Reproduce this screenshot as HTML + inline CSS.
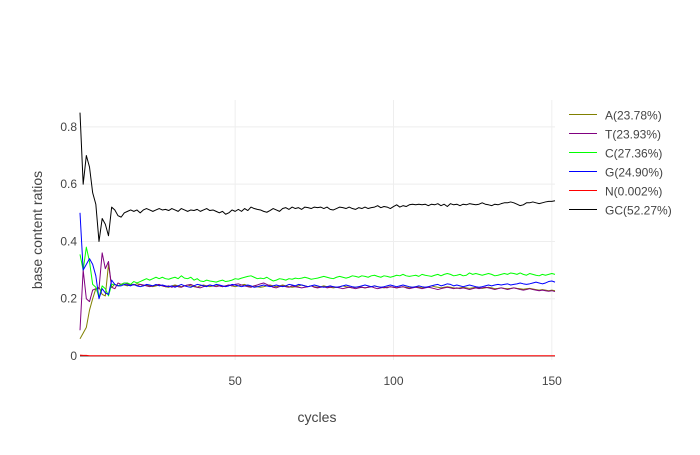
<!DOCTYPE html>
<html><head><meta charset="utf-8"><style>
body{margin:0;background:#fff;}
svg{font-family:"Liberation Sans",sans-serif;}
</style></head><body>
<svg id="chart" width="700" height="450" xmlns="http://www.w3.org/2000/svg">
<rect width="700" height="450" fill="#fff"/>
<g id="grid"></g>
<g id="axes"></g>
<g id="plot"></g>
<g id="legend"></g>
<text x="317" y="422" text-anchor="middle" font-size="14" fill="#444">cycles</text>
<text x="0" y="0" transform="translate(42,230) rotate(-90)" text-anchor="middle" font-size="14" fill="#444">base content ratios</text>
</svg>
<script>
const xTicks=[50,100,150];
const yTicks=[0,0.2,0.4,0.6,0.8];
const yTickLabels=["0","0.2","0.4","0.6","0.8"];
const seriesNames=["A(23.78%)","T(23.93%)","C(27.36%)","G(24.90%)","N(0.002%)","GC(52.27%)"];
const A=[0.06,0.08,0.10,0.16,0.20,0.235,0.24,0.215,0.21,0.32,0.24,0.25,0.245,0.25,0.248,
0.245,0.25,0.248,0.252,0.25,0.245,0.248,0.245,0.242,0.245,0.248,0.245,0.242,0.24,0.245,
0.248,0.245,0.242,0.245,0.248,0.245,0.242,0.24,0.245,0.248,0.245,0.242,0.245,0.248,0.245,
0.242,0.245,0.248,0.245,0.242,0.245,0.248,0.25,0.245,0.242,0.245,0.242,0.24,0.242,0.245,
0.248,0.245,0.242,0.245,0.248,0.245,0.242,0.24,0.242,0.245,0.248,0.245,0.242,0.245,0.242,
0.24,0.242,0.245,0.242,0.24,0.238,0.24,0.242,0.245,0.242,0.24,0.238,0.24,0.242,0.24,
0.238,0.24,0.242,0.245,0.242,0.24,0.238,0.24,0.242,0.24,0.238,0.24,0.242,0.24,0.238,
0.24,0.242,0.24,0.238,0.24,0.242,0.245,0.242,0.24,0.238,0.24,0.242,0.24,0.238,0.236,
0.238,0.24,0.238,0.236,0.238,0.24,0.238,0.236,0.238,0.24,0.238,0.235,0.236,0.238,0.236,
0.235,0.236,0.238,0.236,0.235,0.233,0.235,0.236,0.234,0.232,0.23,0.232,0.23,0.228,0.23,0.228];
const T=[0.09,0.30,0.20,0.19,0.23,0.235,0.235,0.36,0.305,0.33,0.24,0.235,0.255,0.25,0.255,
0.252,0.248,0.25,0.245,0.25,0.248,0.245,0.242,0.245,0.248,0.25,0.245,0.242,0.245,0.24,
0.245,0.242,0.24,0.245,0.248,0.25,0.245,0.24,0.238,0.242,0.245,0.248,0.245,0.242,0.245,
0.242,0.245,0.248,0.245,0.25,0.252,0.248,0.245,0.242,0.24,0.245,0.248,0.252,0.255,0.25,
0.245,0.24,0.238,0.242,0.245,0.242,0.24,0.245,0.242,0.24,0.238,0.24,0.242,0.245,0.24,
0.238,0.24,0.242,0.238,0.24,0.242,0.24,0.238,0.235,0.238,0.24,0.238,0.235,0.238,0.24,
0.238,0.24,0.242,0.238,0.235,0.238,0.24,0.238,0.242,0.24,0.238,0.24,0.242,0.238,0.235,
0.238,0.24,0.238,0.235,0.238,0.24,0.238,0.235,0.232,0.235,0.238,0.24,0.238,0.235,0.238,
0.235,0.238,0.235,0.232,0.235,0.238,0.235,0.238,0.24,0.238,0.235,0.232,0.235,0.238,0.235,
0.232,0.235,0.238,0.235,0.232,0.23,0.232,0.235,0.232,0.23,0.228,0.23,0.228,0.226,0.228,0.225];
const C=[0.355,0.30,0.38,0.33,0.25,0.24,0.205,0.245,0.235,0.21,0.25,0.25,0.245,0.25,0.255,
0.255,0.25,0.26,0.255,0.26,0.265,0.27,0.265,0.27,0.275,0.27,0.275,0.27,0.268,0.272,
0.275,0.27,0.28,0.272,0.27,0.275,0.265,0.27,0.262,0.26,0.265,0.262,0.26,0.258,0.262,
0.265,0.26,0.262,0.265,0.27,0.268,0.272,0.275,0.278,0.28,0.275,0.27,0.272,0.27,0.275,
0.268,0.262,0.265,0.27,0.268,0.265,0.27,0.268,0.272,0.27,0.272,0.275,0.272,0.268,0.27,
0.272,0.275,0.278,0.275,0.272,0.27,0.275,0.278,0.275,0.272,0.275,0.28,0.278,0.275,0.28,
0.278,0.275,0.28,0.282,0.278,0.275,0.28,0.278,0.275,0.278,0.282,0.28,0.285,0.28,0.278,
0.28,0.282,0.278,0.285,0.282,0.28,0.278,0.282,0.285,0.28,0.285,0.288,0.285,0.28,0.282,
0.285,0.28,0.282,0.29,0.285,0.288,0.285,0.282,0.285,0.288,0.285,0.28,0.282,0.285,0.288,
0.285,0.29,0.288,0.285,0.29,0.285,0.282,0.288,0.285,0.282,0.28,0.285,0.282,0.285,0.288,0.285];
const G=[0.50,0.30,0.32,0.34,0.32,0.28,0.20,0.235,0.22,0.215,0.265,0.25,0.245,0.245,0.25,
0.248,0.245,0.25,0.245,0.242,0.245,0.25,0.248,0.245,0.25,0.245,0.248,0.245,0.242,0.245,
0.24,0.245,0.25,0.245,0.242,0.24,0.245,0.25,0.248,0.245,0.242,0.248,0.245,0.25,0.248,
0.245,0.242,0.245,0.25,0.248,0.245,0.242,0.245,0.248,0.245,0.24,0.242,0.245,0.248,0.245,
0.242,0.245,0.248,0.245,0.242,0.245,0.25,0.248,0.245,0.25,0.248,0.245,0.242,0.245,0.248,
0.245,0.242,0.24,0.242,0.245,0.242,0.24,0.242,0.245,0.248,0.245,0.242,0.24,0.242,0.245,
0.248,0.245,0.242,0.245,0.242,0.24,0.242,0.245,0.248,0.245,0.242,0.245,0.248,0.245,0.242,
0.24,0.242,0.245,0.242,0.24,0.242,0.245,0.248,0.25,0.245,0.248,0.252,0.25,0.245,0.248,
0.245,0.242,0.245,0.248,0.245,0.242,0.24,0.242,0.245,0.248,0.245,0.248,0.25,0.248,0.25,
0.252,0.248,0.25,0.252,0.255,0.252,0.25,0.252,0.255,0.258,0.255,0.252,0.255,0.26,0.262,0.258];
const N=[0.003,0.002,0.002,0.001,0.001,0.001,0.001,0.001,0.001,0.001,0.001,0.001,0.001,0.001,0.001,
0.001,0.001,0.001,0.001,0.001,0.001,0.001,0.001,0.001,0.001,0.001,0.001,0.001,0.001,0.001,
0.001,0.001,0.001,0.001,0.001,0.001,0.001,0.001,0.001,0.001,0.001,0.001,0.001,0.001,0.001,
0.001,0.001,0.001,0.001,0.001,0.001,0.001,0.001,0.001,0.001,0.001,0.001,0.001,0.001,0.001,
0.001,0.001,0.001,0.001,0.001,0.001,0.001,0.001,0.001,0.001,0.001,0.001,0.001,0.001,0.001,
0.001,0.001,0.001,0.001,0.001,0.001,0.001,0.001,0.001,0.001,0.001,0.001,0.001,0.001,0.001,
0.001,0.001,0.001,0.001,0.001,0.001,0.001,0.001,0.001,0.001,0.001,0.001,0.001,0.001,0.001,
0.001,0.001,0.001,0.001,0.001,0.001,0.001,0.001,0.001,0.001,0.001,0.001,0.001,0.001,0.001,
0.001,0.001,0.001,0.001,0.001,0.001,0.001,0.001,0.001,0.001,0.001,0.001,0.001,0.001,0.001,
0.001,0.001,0.001,0.001,0.001,0.001,0.001,0.001,0.001,0.001,0.001,0.001,0.001,0.001,0.001,0.001];
const GC=[0.85,0.60,0.70,0.66,0.57,0.53,0.40,0.48,0.46,0.42,0.52,0.51,0.49,0.485,0.50,
0.505,0.51,0.505,0.51,0.50,0.51,0.515,0.51,0.505,0.51,0.515,0.51,0.512,0.508,0.515,
0.51,0.505,0.515,0.51,0.505,0.51,0.508,0.512,0.505,0.51,0.515,0.508,0.51,0.505,0.50,
0.505,0.495,0.50,0.51,0.505,0.512,0.505,0.515,0.508,0.52,0.515,0.512,0.51,0.505,0.502,
0.508,0.515,0.51,0.505,0.515,0.518,0.512,0.52,0.515,0.518,0.512,0.52,0.518,0.515,0.52,
0.518,0.52,0.515,0.52,0.512,0.51,0.515,0.52,0.518,0.515,0.52,0.515,0.512,0.518,0.515,
0.52,0.515,0.518,0.52,0.525,0.518,0.522,0.52,0.515,0.522,0.528,0.52,0.525,0.522,0.528,
0.53,0.528,0.53,0.528,0.53,0.525,0.53,0.528,0.532,0.525,0.53,0.522,0.532,0.528,0.53,
0.525,0.53,0.528,0.532,0.53,0.528,0.53,0.535,0.53,0.528,0.525,0.53,0.528,0.532,0.535,
0.535,0.538,0.535,0.53,0.525,0.528,0.535,0.535,0.538,0.535,0.532,0.535,0.538,0.54,0.54,0.542];

const NS="http://www.w3.org/2000/svg";
const L=80,R=555,T0=100,B0=360;
const xMin=1,xMax=151,yMin=-0.014,yMax=0.894;
function xs(v){return L+(v-xMin)/(xMax-xMin)*(R-L);}
function ys(v){return B0-(v-yMin)/(yMax-yMin)*(B0-T0);}
function mk(tag,attrs,parent){const e=document.createElementNS(NS,tag);for(const k in attrs)e.setAttribute(k,attrs[k]);parent.appendChild(e);return e;}
const grid=document.getElementById('grid'),axes=document.getElementById('axes'),plot=document.getElementById('plot'),legend=document.getElementById('legend');
xTicks.forEach(function(t){
  const g=mk('line',{x1:xs(t),x2:xs(t),y1:T0,y2:B0,stroke:'#eee','stroke-width':1},grid);
  
  
  const lb=mk('text',{x:xs(t),y:385,'text-anchor':'middle','font-size':12,fill:'#444'},axes);
  lb.textContent=String(t);
  
  
});
yTicks.forEach(function(t,i){
  const g=mk('line',{x1:L,x2:R,y1:ys(t),y2:ys(t),stroke:t===0?'#444':'#eee','stroke-width':1},grid);
  
  
  const lb=mk('text',{x:77,y:ys(t)+4,'text-anchor':'end','font-size':12,fill:'#444'},axes);
  lb.textContent=yTickLabels[i];
  
  
});
const series=[A,T,C,G,N,GC];
const colors=['#808000','#800080','#00ff00','#0000ff','#ff0000','#000000'];
const keys=['a','t','c','g','n','gc'];
series.forEach(function(arr,si){
  const pts=arr.map(function(v,i){return xs(i+1).toFixed(2)+','+ys(v).toFixed(2);}).join(' ');
  const p=mk('polyline',{points:pts,fill:'none',stroke:colors[si],'stroke-width':1,'stroke-linejoin':'round'},plot);
  
  
  const ly=114.5+si*19;
  const ll=mk('line',{x1:569,x2:597,y1:ly,y2:ly,stroke:colors[si],'stroke-width':1,'shape-rendering':'crispEdges'},legend);
  
  
  const lt=mk('text',{x:605,y:ly+5,'font-size':12,fill:'#444'},legend);
  lt.textContent=seriesNames[si];
  
  
});
</script>
</body></html>
